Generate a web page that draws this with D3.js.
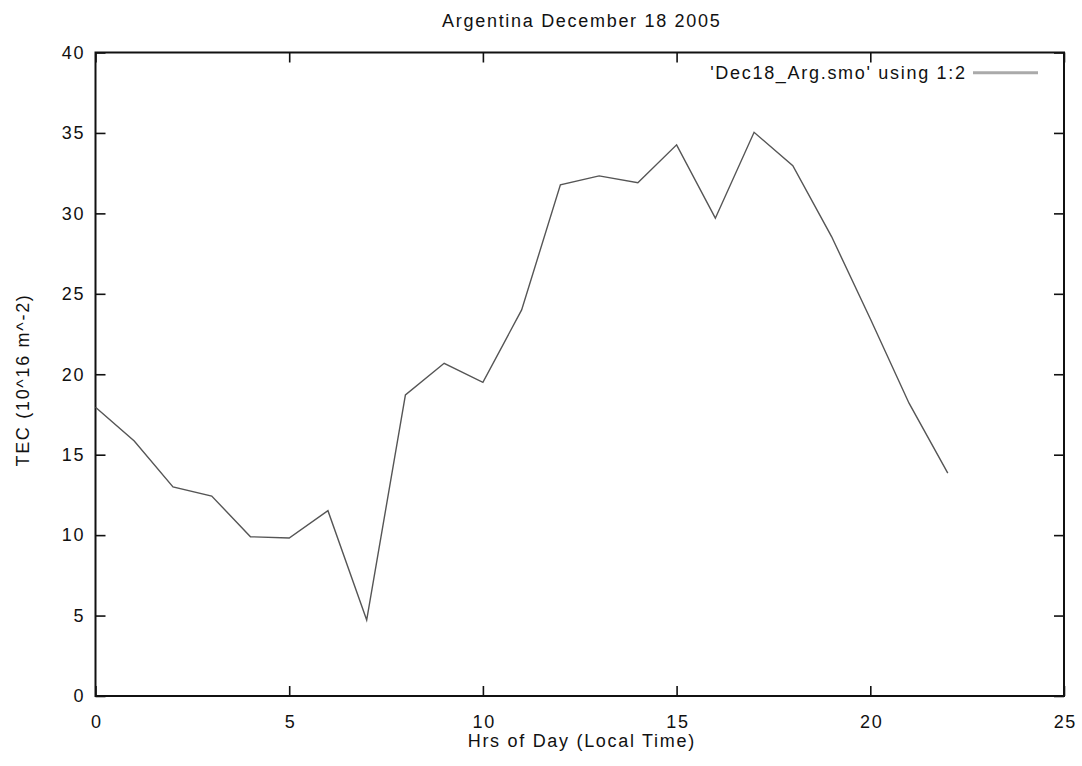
<!DOCTYPE html>
<html>
<head>
<meta charset="utf-8">
<script src="https://cdn.jsdelivr.net/npm/d3@7"></script>
<style>
  html, body { margin: 0; padding: 0; background: #fff; }
  svg { display: block; }
  text { font-family: "Liberation Sans", Arial, Helvetica, sans-serif; fill: #111; letter-spacing: 1.7px; }
</style>
</head>
<body>
<script>
// Hourly TEC values, Argentina, 18 Dec 2005
const hours = [0, 1, 2, 3, 4, 5, 6, 7, 8, 9, 10, 11, 12, 13, 14, 15, 16, 17, 18, 19, 20, 21, 22];
const tec = [17.95, 15.85, 13.0, 12.43, 9.9, 9.82, 11.52, 4.72, 18.72, 20.68, 19.5, 24.0,
             31.77, 32.33, 31.91, 34.26, 29.7, 35.04, 32.97, 28.56, 23.45, 18.2, 13.85];
const xTicks = [0, 5, 10, 15, 20, 25];
const yTicks = [0, 5, 10, 15, 20, 25, 30, 35, 40];

const title = "Argentina December 18 2005";
const xLabel = "Hrs of Day (Local Time)";
const yLabel = "TEC (10^16 m^-2)";
const legendLabel = "'Dec18_Arg.smo' using 1:2";

const W = 1076, H = 766;
const plot = { left: 95.5, right: 1064, top: 52.5, bottom: 696 };

const svg = d3.select("body").append("svg").attr("width", W).attr("height", H);

const x = d3.scaleLinear().domain([0, 25]).range([plot.left, plot.right]);
const y = d3.scaleLinear().domain([0, 40]).range([plot.bottom, plot.top]);

const tickLen = 10;
const fs = 18;

// axis labels with inward ticks, mirrored on top and right
const axBottom = svg.append("g").attr("transform", `translate(0,${plot.bottom})`)
  .call(d3.axisBottom(x).tickValues(xTicks).tickSize(-tickLen).tickPadding(19).tickFormat(d3.format("d")));
const axTop = svg.append("g").attr("transform", `translate(0,${plot.top})`)
  .call(d3.axisTop(x).tickValues(xTicks).tickSize(-tickLen).tickFormat(""));
const axLeft = svg.append("g").attr("transform", `translate(${plot.left},0)`)
  .call(d3.axisLeft(y).tickValues(yTicks).tickSize(-tickLen).tickPadding(12).tickFormat(d3.format("d")));
const axRight = svg.append("g").attr("transform", `translate(${plot.right},0)`)
  .call(d3.axisRight(y).tickValues(yTicks).tickSize(-tickLen).tickFormat(""));

[axBottom, axTop, axLeft, axRight].forEach(g => {
  g.select(".domain").remove();
  g.selectAll(".tick line").attr("stroke", "#111").attr("stroke-width", 1.6);
  g.selectAll(".tick text").attr("font-size", fs).attr("fill", "#111")
    .style("font-family", "'Liberation Sans', Arial, sans-serif")
    .style("letter-spacing", "1.7px");
});
// centre x tick labels on their ticks despite trailing letter spacing
axBottom.selectAll(".tick text").attr("dx", "0.85");
axLeft.selectAll(".tick text").attr("dx", "1.7");

// frame
svg.append("rect")
  .attr("x", plot.left).attr("y", plot.top)
  .attr("width", plot.right - plot.left).attr("height", plot.bottom - plot.top)
  .attr("fill", "none").attr("stroke", "#111").attr("stroke-width", 2);

// data line
const line = d3.line().x((d, i) => x(hours[i])).y(d => y(d));
svg.append("path")
  .datum(tec)
  .attr("d", line)
  .attr("fill", "none")
  .attr("stroke", "#555")
  .attr("stroke-width", 1.4)
  .attr("stroke-linejoin", "miter");

// legend
svg.append("text")
  .attr("x", 966.7).attr("y", 79)
  .attr("text-anchor", "end")
  .attr("font-size", fs)
  .text(legendLabel);
svg.append("line")
  .attr("x1", 973).attr("x2", 1038)
  .attr("y1", 72.7).attr("y2", 72.7)
  .attr("stroke", "#aaa").attr("stroke-width", 3);

// title and axis titles
svg.append("text")
  .attr("x", 581.8).attr("y", 27)
  .attr("text-anchor", "middle").attr("font-size", fs)
  .text(title);
svg.append("text")
  .attr("x", 581.8).attr("y", 747)
  .attr("text-anchor", "middle").attr("font-size", fs)
  .text(xLabel);
svg.append("text")
  .attr("transform", "translate(29,380) rotate(-90)")
  .attr("text-anchor", "middle").attr("font-size", fs)
  .text(yLabel);
</script>
</body>
</html>
